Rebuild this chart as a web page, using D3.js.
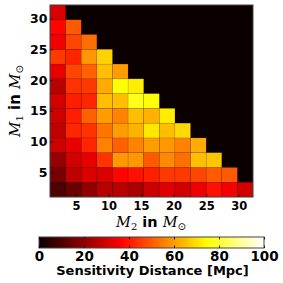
<!DOCTYPE html>
<html>
<head>
<meta charset="utf-8">
<script src="https://cdn.jsdelivr.net/npm/d3@7"></script>
<style>
  body { margin: 0; background: #fff; }
  text { font-family: "DejaVu Sans", sans-serif; }
</style>
</head>
<body>
<div id="chart"></div>
<script>
// mass grid (cell centres, solar masses)
const m2Masses = [2.2, 4.6, 7.0, 9.4, 11.8, 14.2, 16.6, 19.0, 21.4, 23.8, 26.2, 28.6, 31.0];
const m1Masses = [2.2, 4.6, 7.0, 9.4, 11.8, 14.2, 16.6, 19.0, 21.4, 23.8, 26.2, 28.6, 31.0];

// sensitivity distance [Mpc], one row per M1 (bottom row first), columns follow M2
const distance = [
  [10, 14, 20, 26, 26, 24, 29, 32, 30, 34, 39, 35, 30],
  [16, 27, 31, 31, 37, 39, 41, 45, 45, 47, 50, 50],
  [21, 30, 33, 44, 59, 59, 50, 57, 53, 65, 66],
  [29, 33, 42, 56, 51, 56, 60, 59, 56, 62],
  [27, 42, 44, 54, 60, 63, 71, 65, 69],
  [29, 41, 51, 60, 56, 65, 63, 72],
  [30, 41, 42, 65, 65, 77, 75],
  [26, 44, 45, 62, 75, 72],
  [33, 47, 51, 65, 60],
  [45, 42, 59, 68],
  [35, 47, 53],
  [37, 50],
  [31]
];

const massTicks = [5, 10, 15, 20, 25, 30];
const cbarTicks = [0, 20, 40, 60, 80, 100];

const width = 283;
const height = 283;
const plot = { left: 50, right: 253, top: 5, bottom: 197 };
const cbar = { left: 39, right: 264, top: 237, bottom: 248 };
const cellSize = 2.4;

// matplotlib "hot" colormap
function hot(v) {
  const t = Math.max(0, Math.min(1, v / 100));
  const r = Math.min(1, 0.0416 + t / 0.365 * (1 - 0.0416));
  const g = Math.max(0, Math.min(1, (t - 0.365) / 0.381));
  const b = Math.max(0, Math.min(1, (t - 0.746) / 0.254));
  return d3.rgb(r * 255, g * 255, b * 255).formatHex();
}

const svg = d3.select('#chart')
  .append('svg')
  .attr('width', width)
  .attr('height', height);

const x = d3.scaleLinear()
  .domain([1, 32.2])
  .range([plot.left, plot.right]);

const y = d3.scaleLinear()
  .domain([1, 32.2])
  .range([plot.bottom, plot.top]);

// empty region drawn at the colormap's zero
svg.append('rect')
  .attr('x', plot.left)
  .attr('y', plot.top)
  .attr('width', plot.right - plot.left)
  .attr('height', plot.bottom - plot.top)
  .attr('fill', hot(0));

const cells = [];
distance.forEach((row, i) => {
  row.forEach((v, j) => cells.push({ m1: m1Masses[i], m2: m2Masses[j], v: v }));
});

svg.append('g')
  .selectAll('rect')
  .data(cells)
  .join('rect')
    .attr('x', d => x(d.m2 - cellSize / 2))
    .attr('y', d => y(d.m1 + cellSize / 2))
    .attr('width', d => x(d.m2 + cellSize / 2) - x(d.m2 - cellSize / 2))
    .attr('height', d => y(d.m1 - cellSize / 2) - y(d.m1 + cellSize / 2))
    .attr('fill', d => hot(d.v))
    .attr('stroke', 'rgba(0,0,0,0.12)')
    .attr('stroke-width', 0.6);

function styleAxis(g) {
  g.select('.domain').remove();
  g.selectAll('.tick line').attr('stroke', '#000').attr('stroke-width', 0.8);
  g.selectAll('.tick text')
    .attr('font-family', '"DejaVu Sans", sans-serif')
    .attr('font-weight', 'bold')
    .attr('font-size', '11.5px')
    .attr('fill', '#000');
}

svg.append('g')
  .attr('transform', `translate(0,${plot.bottom})`)
  .call(d3.axisBottom(x).tickValues(massTicks).tickSize(-3).tickPadding(5))
  .call(styleAxis);

svg.append('g')
  .attr('transform', `translate(${plot.left},0)`)
  .call(d3.axisLeft(y).tickValues(massTicks).tickSize(-3).tickPadding(2.5))
  .call(styleAxis)
  .call(g => g.selectAll('.tick text').attr('font-size', '12.5px'));

svg.append('rect')
  .attr('x', plot.left)
  .attr('y', plot.top)
  .attr('width', plot.right - plot.left)
  .attr('height', plot.bottom - plot.top)
  .attr('fill', 'none')
  .attr('stroke', '#444')
  .attr('stroke-width', 1);

// axis labels with mathtext-like pieces
function massLabel(sel, sub) {
  sel.append('tspan').attr('font-family', '"DejaVu Serif", serif').attr('font-style', 'italic').text('M');
  sel.append('tspan').attr('font-family', '"DejaVu Serif", serif').attr('font-size', '10px').attr('dy', 3).text(sub);
  sel.append('tspan').attr('font-weight', 'bold').attr('dy', -3).text(' in ');
  sel.append('tspan').attr('font-family', '"DejaVu Serif", serif').attr('font-style', 'italic').text('M');
  sel.append('tspan').attr('font-family', '"DejaVu Sans", sans-serif').attr('font-size', '10px').attr('dy', 3).text('\u2299');
}

svg.append('text')
  .attr('x', 151)
  .attr('y', 227)
  .attr('text-anchor', 'middle')
  .attr('font-size', '14.5px')
  .call(massLabel, '2');

svg.append('text')
  .attr('text-anchor', 'middle')
  .attr('font-size', '15px')
  .attr('transform', 'translate(20,101) rotate(-90)')
  .call(massLabel, '1');

// colorbar
const c = d3.scaleLinear()
  .domain([0, 100])
  .range([cbar.left, cbar.right]);

const grad = svg.append('defs').append('linearGradient')
  .attr('id', 'hotgrad');
grad.selectAll('stop')
  .data(d3.range(0, 101, 2))
  .join('stop')
    .attr('offset', d => d + '%')
    .attr('stop-color', d => hot(d));

svg.append('rect')
  .attr('x', cbar.left)
  .attr('y', cbar.top)
  .attr('width', cbar.right - cbar.left)
  .attr('height', cbar.bottom - cbar.top)
  .attr('fill', 'url(#hotgrad)')
  .attr('stroke', '#444')
  .attr('stroke-width', 1);

svg.append('g')
  .attr('transform', `translate(0,${cbar.bottom})`)
  .call(d3.axisBottom(c).tickValues(cbarTicks).tickSize(-2.5).tickPadding(3))
  .call(styleAxis)
  .call(g => g.selectAll('.tick text').attr('font-size', '13.5px'));

svg.append('g')
  .attr('transform', `translate(0,${cbar.top})`)
  .call(d3.axisTop(c).tickValues(cbarTicks).tickSize(-2.5).tickFormat(''))
  .call(styleAxis);

svg.append('text')
  .attr('x', 152.5)
  .attr('y', 275)
  .attr('text-anchor', 'middle')
  .attr('font-weight', 'bold')
  .attr('font-size', '13px')
  .text('Sensitivity Distance [Mpc]');
</script>
</body>
</html>
